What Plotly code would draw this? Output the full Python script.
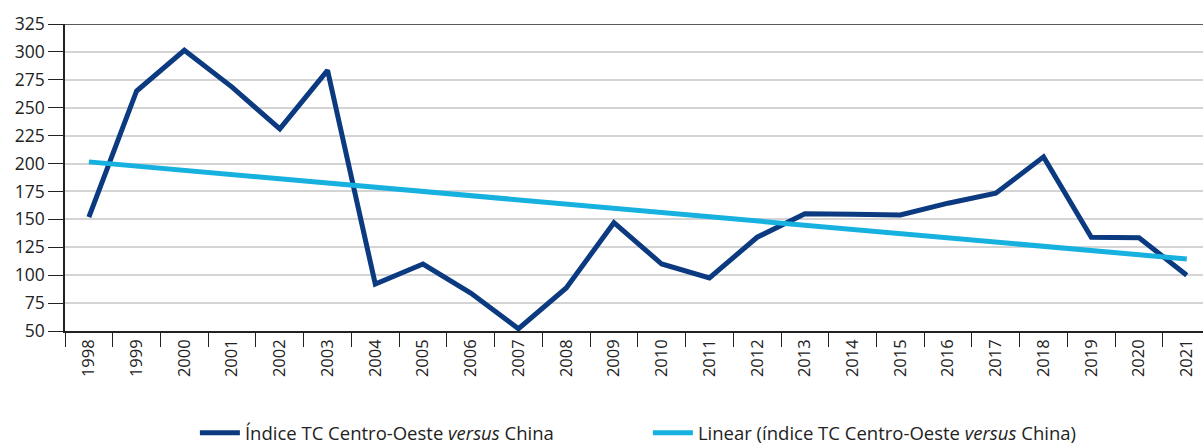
import plotly.graph_objects as go

years = [str(y) for y in range(1998, 2022)]
indice = [152, 265, 301.5, 268.5, 231, 283.5, 92, 110, 84, 52, 88.5, 147,
          110, 97.5, 134, 155, 154.5, 154, 164.5, 173.5, 206, 134, 133.5, 100]
trend_years = ["1998", "2021"]
trend_values = [201.5, 114.5]

y_ticks = list(range(50, 326, 25))

DARK = "#0b3a80"
LIGHT = "#17b1e0"
FONT = "Open Sans"

fig = go.Figure()
fig.add_trace(go.Scatter(
    x=years, y=indice, mode="lines",
    name="Índice TC Centro-Oeste <i>versus</i> China",
    line=dict(color=DARK, width=5),
))
fig.add_trace(go.Scatter(
    x=trend_years, y=trend_values, mode="lines",
    name="Linear (índice TC Centro-Oeste <i>versus</i> China)",
    line=dict(color=LIGHT, width=5),
))

fig.add_shape(type="line", xref="paper", yref="y", x0=0, x1=1, y0=325, y1=325,
              line=dict(color="#222222", width=1.5))

fig.update_layout(
    width=1203, height=444,
    margin=dict(l=65, r=0, t=24, b=113, autoexpand=False),
    paper_bgcolor="white", plot_bgcolor="white",
    font=dict(family=FONT, size=17, color="#222222"),
    showlegend=True,
    legend=dict(orientation="h", xref="container", yref="container",
                x=0.162, xanchor="left", y=0.024, yanchor="middle",
                font=dict(size=18.5, color="#222222"), itemwidth=40,
                traceorder="normal", entrywidth=398, entrywidthmode="pixels"),
    xaxis=dict(
        type="category", categoryorder="array", categoryarray=years,
        range=[-0.5, 23.34], automargin=False,
        tickson="boundaries", ticks="outside", ticklen=14, tickwidth=1.2,
        tickcolor="#222222", tickangle=-90,
        showline=True, linecolor="#222222", linewidth=1.5,
        showgrid=False, zeroline=False,
        tickfont=dict(size=16.5),
    ),
    yaxis=dict(
        range=[50, 325], tickvals=y_ticks, automargin=False,
        ticks="outside", ticklen=15, tickwidth=1.2, tickcolor="#222222",
        showline=True, linecolor="#222222", linewidth=1.5,
        showgrid=True, gridcolor="#d4d4d4", gridwidth=1.5,
        zeroline=False, tickfont=dict(size=17.5),
    ),
)

fig.write_html("out.html", config={"displayModeBar": False},
               post_script="document.body.style.margin='0';document.body.style.overflow='hidden';")
